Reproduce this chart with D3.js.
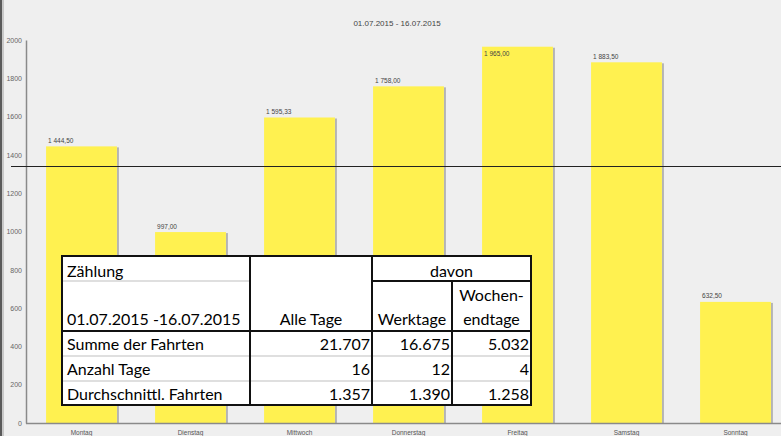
<!DOCTYPE html>
<html>
<head>
<meta charset="utf-8">
<script src="https://cdn.jsdelivr.net/npm/d3@7"></script>
<style>
  html, body { margin: 0; padding: 0; background: #efefef; overflow: hidden; }
  svg { display: block; }
</style>
</head>
<body>
<script>
var width = 781;
var height = 436;

// chart data
var days = ["Montag", "Dienstag", "Mittwoch", "Donnerstag", "Freitag", "Samstag", "Sonntag"];
var avgRides = [1444.50, 997.00, 1595.33, 1758.00, 1965.00, 1883.50, 632.50];
var yTicks = [0, 200, 400, 600, 800, 1000, 1200, 1400, 1600, 1800, 2000];
var refLine = 1342;
var title = "01.07.2015 - 16.07.2015";

// table data
var tableHead = ["Zählung", "01.07.2015 -16.07.2015", "Alle Tage", "davon", "Werktage", "Wochen-", "endtage"];
var rowNames = ["Summe der Fahrten", "Anzahl Tage", "Durchschnittl. Fahrten"];
var alleTage = ["21.707", "16", "1.357"];
var werktage = ["16.675", "12", "1.390"];
var wochenendtage = ["5.032", "4", "1.258"];

var de = d3.formatLocale({decimal: ",", thousands: " ", grouping: [3], currency: ["", ""]});
var fmt = de.format(",.2f");

var svg = d3.select("body")
  .append("svg")
  .attr("width", width)
  .attr("height", height);

svg.append("rect")
  .attr("width", width).attr("height", height)
  .attr("fill", "#efefef");

// window frame on the left
svg.append("rect").attr("x", 0).attr("y", 0).attr("width", 2).attr("height", height).attr("fill", "#5a5a5a");
svg.append("rect").attr("x", 2).attr("y", 0).attr("width", 2).attr("height", height).attr("fill", "#c8c8c8");

var x = d3.scaleBand()
  .domain(days)
  .range([27, 27 + 7 * 109])
  .paddingInner(0.35)
  .paddingOuter(0.175);

var y = d3.scaleLinear()
  .domain([0, 2000])
  .range([423, 40]);

// title
svg.append("text")
  .attr("x", 397).attr("y", 26)
  .attr("text-anchor", "middle")
  .attr("font-family", "Liberation Sans, Arial, sans-serif")
  .attr("font-size", 8)
  .attr("fill", "#444")
  .text(title);

// y axis
var yAxis = svg.append("g")
  .attr("transform", "translate(26,0)")
  .call(d3.axisLeft(y).tickValues(yTicks).tickSize(0).tickPadding(4).tickFormat(d3.format("d")));
yAxis.select(".domain").attr("stroke", "#8a8a8a").attr("stroke-width", 1.5);
yAxis.selectAll("text")
  .attr("font-family", "Liberation Sans, Arial, sans-serif")
  .attr("font-size", 7)
  .attr("fill", "#666");

// bars
var bars = svg.append("g");
bars.selectAll(".shadow")
  .data(avgRides)
  .enter()
  .append("rect")
  .attr("class", "shadow")
  .attr("x", (d, i) => x(days[i]) + x.bandwidth())
  .attr("y", d => y(d) + 1)
  .attr("width", 2)
  .attr("height", d => y(0) - y(d) - 1)
  .attr("fill", "#b4b4b4");

bars.selectAll(".bar")
  .data(avgRides)
  .enter()
  .append("rect")
  .attr("class", "bar")
  .attr("x", (d, i) => x(days[i]))
  .attr("y", d => y(d))
  .attr("width", x.bandwidth())
  .attr("height", d => y(0) - y(d))
  .attr("fill", "#fff150");

bars.selectAll(".val")
  .data(avgRides)
  .enter()
  .append("text")
  .attr("class", "val")
  .attr("x", (d, i) => x(days[i]) + 2)
  .attr("y", d => Math.max(y(d) - 6, 53) + 2.5)
  .attr("font-family", "Liberation Sans, Arial, sans-serif")
  .attr("font-size", 6.5)
  .attr("fill", "#444")
  .text(d => fmt(d));

// x axis
svg.append("line")
  .attr("x1", 26).attr("x2", width)
  .attr("y1", y(0) + 0.5).attr("y2", y(0) + 0.5)
  .attr("stroke", "#8a8a8a").attr("stroke-width", 1.5);

svg.append("g")
  .selectAll("text")
  .data(days)
  .enter()
  .append("text")
  .attr("x", d => x(d) + x.bandwidth() / 2)
  .attr("y", 434.5)
  .attr("text-anchor", "middle")
  .attr("font-family", "Liberation Sans, Arial, sans-serif")
  .attr("font-size", 6.5)
  .attr("fill", "#555")
  .text(d => d);

// reference line
svg.append("line")
  .attr("x1", 11).attr("x2", width)
  .attr("y1", Math.round(y(refLine)) + 0.5).attr("y2", Math.round(y(refLine)) + 0.5)
  .attr("stroke", "#222").attr("stroke-width", 1.2);

// pasted table
var cols = [62, 250, 372, 452, 531];
var rows = [256, 281, 331, 356, 381, 405];
var tbl = svg.append("g");
var tfont = "Lato, 'Open Sans', sans-serif";
var tsize = 16;

tbl.append("rect")
  .attr("x", cols[0]).attr("y", rows[0])
  .attr("width", cols[4] - cols[0]).attr("height", rows[5] - rows[0])
  .attr("fill", "white");

// light grid lines
[[cols[0], cols[1], rows[1]], [cols[0], cols[4], rows[3]], [cols[0], cols[4], rows[4]]].forEach(function(l) {
  tbl.append("line")
    .attr("x1", l[0]).attr("x2", l[1]).attr("y1", l[2]).attr("y2", l[2])
    .attr("stroke", "#d4d4d4").attr("stroke-width", 1.5);
});

// black borders
tbl.append("rect")
  .attr("x", cols[0]).attr("y", rows[0])
  .attr("width", cols[4] - cols[0]).attr("height", rows[5] - rows[0])
  .attr("fill", "none").attr("stroke", "#111").attr("stroke-width", 2);
[cols[1], cols[2]].forEach(function(c) {
  tbl.append("line").attr("x1", c).attr("x2", c).attr("y1", rows[0]).attr("y2", rows[5])
    .attr("stroke", "#111").attr("stroke-width", 2);
});
tbl.append("line").attr("x1", cols[3]).attr("x2", cols[3]).attr("y1", rows[1]).attr("y2", rows[5])
  .attr("stroke", "#111").attr("stroke-width", 2);
tbl.append("line").attr("x1", cols[2]).attr("x2", cols[4]).attr("y1", rows[1]).attr("y2", rows[1])
  .attr("stroke", "#111").attr("stroke-width", 2);
tbl.append("line").attr("x1", cols[0]).attr("x2", cols[4]).attr("y1", rows[2]).attr("y2", rows[2])
  .attr("stroke", "#111").attr("stroke-width", 2);

function cell(txt, xx, yy, anchor) {
  tbl.append("text")
    .attr("x", xx).attr("y", yy)
    .attr("text-anchor", anchor)
    .attr("font-family", tfont)
    .attr("font-size", tsize)
    .attr("fill", "#000")
    .text(txt);
}

// header
cell(tableHead[0], cols[0] + 5, 277, "start");
cell(tableHead[1], cols[0] + 5, 325, "start");
cell(tableHead[2], (cols[1] + cols[2]) / 2, 325, "middle");
cell(tableHead[3], (cols[2] + cols[4]) / 2, 277, "middle");
cell(tableHead[4], (cols[2] + cols[3]) / 2, 325, "middle");
cell(tableHead[5], (cols[3] + cols[4]) / 2, 301, "middle");
cell(tableHead[6], (cols[3] + cols[4]) / 2, 325, "middle");

// body rows
rowNames.forEach(function(name, i) {
  var by = rows[2 + i] + 19;
  cell(name, cols[0] + 5, by, "start");
  cell(alleTage[i], cols[2] - 2, by, "end");
  cell(werktage[i], cols[3] - 2, by, "end");
  cell(wochenendtage[i], cols[4] - 2, by, "end");
});
</script>
</body>
</html>
